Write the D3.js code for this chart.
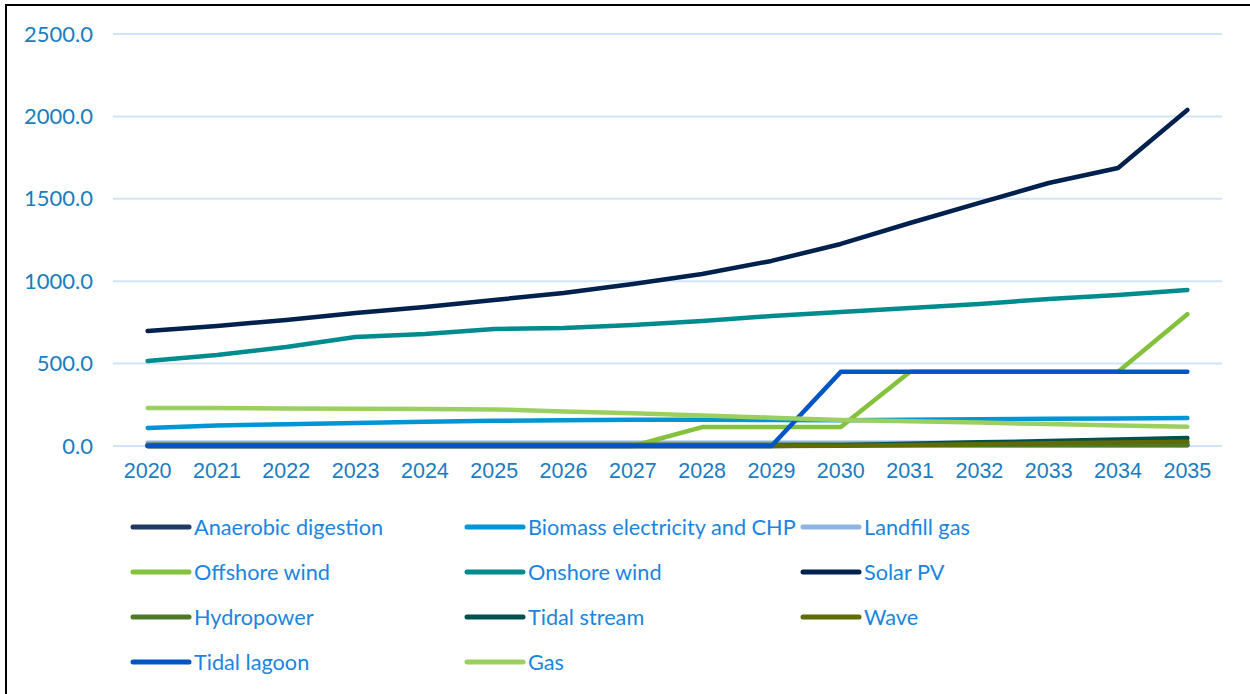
<!DOCTYPE html>
<html><head><meta charset="utf-8">
<script src="https://cdn.jsdelivr.net/npm/d3@7"></script>
<style>body{margin:0;background:#fff;overflow:hidden}</style>
</head><body>
<script>
const years = ["2020","2021","2022","2023","2024","2025","2026","2027","2028","2029","2030","2031","2032","2033","2034","2035"];
const yTicks = [0, 500, 1000, 1500, 2000, 2500];

const anaerobicDigestion = [5,5,5,5,5,5,5,5,5,5,5,5,5,5,5,5];
const biomass = [109,125,132,140,147,153,157,160,160,158,157,160,163,165,167,170];
const landfillGas = [20,20,20,20,20,20,20,20,20,20,20,20,20,20,20,20];
const offshoreWind = [0,0,0,0,0,0,0,0,115,115,115,450,450,450,450,800];
const onshoreWind = [516,552,601,661,680,710,716,734,758,789,813,837,862,892,916,947];
const solarPV = [698,728,765,807,843,886,928,983,1044,1123,1226,1353,1475,1596,1687,2039];
const hydropower = [8,8,8,8,8,8,8,8,8,8,8,8,8,8,8,8];
const tidalStream = [0,0,0,0,0,0,0,0,0,0,5,13,22,30,40,48];
const wave = [0,0,0,0,0,0,0,0,0,0,2,6,11,16,21,26];
const tidalLagoon = [0,0,0,0,0,0,0,0,0,0,450,450,450,450,450,450];
const gas = [231,230,228,226,224,222,210,198,185,172,158,150,142,133,125,117];

const seriesNames = ["Anaerobic digestion","Biomass electricity and CHP","Landfill gas","Offshore wind","Onshore wind","Solar PV","Hydropower","Tidal stream","Wave","Tidal lagoon","Gas"];
const seriesValues = [anaerobicDigestion, biomass, landfillGas, offshoreWind, onshoreWind, solarPV, hydropower, tidalStream, wave, tidalLagoon, gas];
const seriesColors = ["#203864","#0096d6","#8fb4e3","#84c13c","#008b8f","#00204e","#4e7a28","#00504f","#606b05","#0055c4","#9bd060"];

const W = 1250, H = 694;
const svg = d3.select("body").append("svg").attr("width", W).attr("height", H);
const font = "Lato, 'Open Sans', sans-serif";

svg.append("rect").attr("x",6).attr("y",5).attr("width",1300).attr("height",800)
  .attr("fill","none").attr("stroke","#000").attr("stroke-width",2);

const x = d3.scaleBand().domain(years).range([113, 1222]);
const y = d3.scaleLinear().domain([0, 2500]).range([446, 34]);

svg.append("g").selectAll("line").data(yTicks).join("line")
  .attr("x1", 113).attr("x2", 1222)
  .attr("y1", d => y(d)).attr("y2", d => y(d))
  .attr("stroke", "#cfe5f7").attr("stroke-width", 2);

const yAxis = svg.append("g").attr("transform","translate(99,0)")
  .call(d3.axisLeft(y).tickValues(yTicks).tickFormat(d3.format(".1f")).tickSize(0).tickPadding(6));
yAxis.select(".domain").remove();
yAxis.selectAll("text").attr("font-family", font).attr("font-size", 22).attr("fill", "#1a7dc0");

const xAxis = svg.append("g").attr("transform","translate(0,461)")
  .call(d3.axisBottom(x).tickSize(0).tickPadding(2));
xAxis.select(".domain").remove();
xAxis.selectAll("text").attr("font-family", "'Liberation Sans', Arial, sans-serif").attr("font-size", 21.5).attr("fill", "#1a7dc0");

const line = d3.line().x((d,i) => x(years[i]) + x.bandwidth()/2).y(d => y(d));

svg.append("g").selectAll("path").data(seriesValues).join("path")
  .attr("d", d => line(d))
  .attr("fill","none")
  .attr("stroke", (d,i) => seriesColors[i])
  .attr("stroke-width", 4.5)
  .attr("stroke-linecap","round")
  .attr("stroke-linejoin","round");

const colX = [133, 467, 803];
const rowY = [527, 572, 617, 662];
const leg = svg.append("g").selectAll("g").data(seriesNames).join("g")
  .attr("transform", (d,i) => `translate(${colX[i%3]},${rowY[Math.floor(i/3)]})`);
leg.append("line").attr("x1",0).attr("x2",56).attr("y1",0).attr("y2",0)
  .attr("stroke",(d,i)=>seriesColors[i]).attr("stroke-width",5).attr("stroke-linecap","round");
leg.append("text").attr("x",61).attr("y",0).attr("dy","0.35em")
  .attr("font-family", font).attr("font-size", 21.7).attr("fill","#1a85e0").text(d=>d);
</script>
</body></html>
